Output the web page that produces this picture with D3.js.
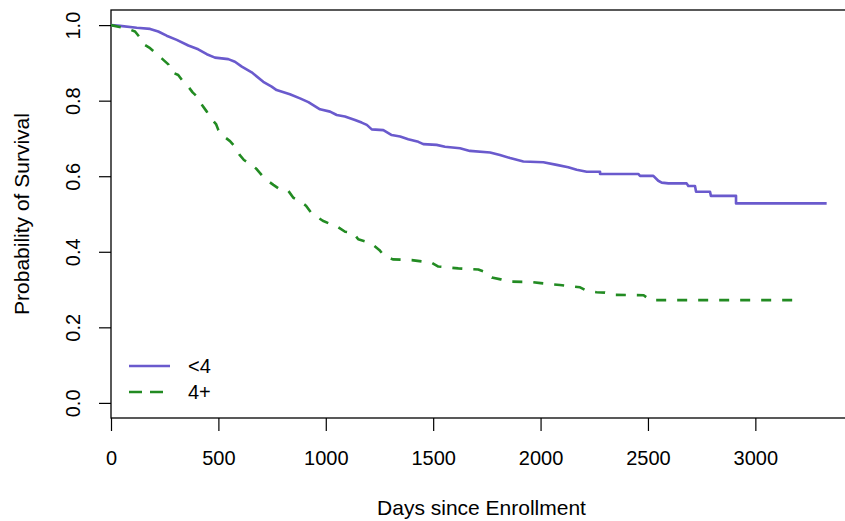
<!DOCTYPE html>
<html>
<head>
<meta charset="utf-8">
<script src="https://cdn.jsdelivr.net/npm/d3@7"></script>
<style>
  html, body { margin: 0; padding: 0; background: #fff; }
  svg { display: block; }
  text { font-family: "Liberation Sans", Arial, Helvetica, sans-serif; fill: #000; }
</style>
</head>
<body>
<svg id="chart" width="845" height="521"></svg>
<script>
// ---- data: Kaplan-Meier curves (time in days, survival probability) ----
const groupLabels = ["<4", "4+"];
const groupColors = ["#6A5ACD", "#228B22"];

const lowTimes = [0, 42, 120, 182, 220, 259, 306, 360, 406, 446, 484, 546, 577, 609, 655, 709, 748, 771, 833, 880, 919, 973, 1020, 1051, 1089, 1136, 1167, 1191, 1214, 1268, 1307, 1346, 1384, 1431, 1454, 1516, 1555, 1625, 1671, 1765, 1811, 1858, 1920, 2013, 2075, 2129, 2168, 2215, 2277, 2277, 2455, 2463, 2525, 2548, 2564, 2595, 2680, 2688, 2719, 2724, 2789, 2793, 2910, 2910, 3332];
const lowSurv  = [1.000, 0.998, 0.993, 0.990, 0.983, 0.972, 0.961, 0.946, 0.936, 0.923, 0.914, 0.910, 0.903, 0.890, 0.875, 0.850, 0.837, 0.828, 0.817, 0.806, 0.796, 0.777, 0.771, 0.762, 0.758, 0.749, 0.742, 0.736, 0.724, 0.722, 0.709, 0.705, 0.698, 0.691, 0.685, 0.683, 0.678, 0.674, 0.667, 0.663, 0.656, 0.648, 0.639, 0.637, 0.630, 0.624, 0.617, 0.612, 0.612, 0.606, 0.606, 0.601, 0.601, 0.588, 0.583, 0.581, 0.581, 0.574, 0.574, 0.559, 0.559, 0.548, 0.548, 0.528, 0.528];

const highTimes = [0, 80, 112, 135, 154, 182, 210, 236, 267, 278, 313, 334, 360, 380, 406, 422, 446, 466, 489, 500, 526, 554, 577, 597, 619, 650, 678, 702, 725, 756, 784, 826, 849, 880, 908, 930, 958, 986, 1023, 1058, 1090, 1128, 1151, 1187, 1221, 1249, 1271, 1312, 1400, 1493, 1524, 1617, 1710, 1749, 1773, 1814, 1855, 1954, 2001, 2090, 2184, 2215, 2260, 2300, 2346, 2480, 2510, 3176];
const highSurv  = [1.000, 0.990, 0.983, 0.967, 0.949, 0.939, 0.925, 0.912, 0.896, 0.877, 0.868, 0.852, 0.837, 0.822, 0.808, 0.790, 0.771, 0.753, 0.738, 0.722, 0.705, 0.693, 0.678, 0.658, 0.643, 0.632, 0.619, 0.603, 0.590, 0.577, 0.566, 0.561, 0.543, 0.534, 0.522, 0.505, 0.493, 0.482, 0.473, 0.465, 0.453, 0.450, 0.433, 0.427, 0.418, 0.405, 0.390, 0.380, 0.378, 0.371, 0.361, 0.356, 0.353, 0.345, 0.332, 0.327, 0.321, 0.320, 0.317, 0.312, 0.306, 0.297, 0.293, 0.292, 0.286, 0.285, 0.272, 0.272];

const xTicks = [0, 500, 1000, 1500, 2000, 2500, 3000];
const yTicks = [0.0, 0.2, 0.4, 0.6, 0.8, 1.0];
const xTitle = "Days since Enrollment";
const yTitle = "Probability of Survival";

(function () {
const svg = d3.select("#chart");
const pL = 111, pR = 852, pT = 10, pB = 418;
const x = d3.scaleLinear().domain([0, 3450]).range([pL, pR]);
const y = d3.scaleLinear().domain([-0.04, 1.04]).range([pB, pT]);
const FS = 20, FT = 21;
const FF = '"Liberation Sans", Arial, Helvetica, sans-serif';

// box (right edge falls outside the window)
svg.append("rect")
  .attr("x", pL).attr("y", pT)
  .attr("width", pR - pL).attr("height", pB - pT)
  .attr("fill", "none").attr("stroke", "#000").attr("stroke-width", 1.3);

// x axis
const xAxis = svg.append("g").attr("transform", `translate(0,${pB})`)
  .call(d3.axisBottom(x).tickValues(xTicks).tickSize(13).tickPadding(0).tickFormat(d3.format("d")));
xAxis.select(".domain").remove();
xAxis.selectAll(".tick line").attr("stroke", "#000").attr("stroke-width", 1.2);
xAxis.selectAll(".tick text")
  .attr("y", 47).attr("dy", null)
  .style("font-size", FS + "px").style("font-family", FF)
  .attr("fill", "#000");

// y axis
const yAxis = svg.append("g").attr("transform", `translate(${pL},0)`)
  .call(d3.axisLeft(y).tickValues(yTicks).tickSize(12).tickFormat(d3.format(".1f")));
yAxis.select(".domain").remove();
yAxis.selectAll(".tick line").attr("stroke", "#000").attr("stroke-width", 1.2);
yAxis.selectAll(".tick text")
  .attr("x", null).attr("dy", null)
  .attr("transform", "translate(-31,0) rotate(-90)")
  .attr("text-anchor", "middle")
  .attr("y", 0)
  .style("font-size", FS + "px").style("font-family", FF)
  .attr("fill", "#000");

// titles
svg.append("text")
  .attr("x", (pL + pR) / 2).attr("y", 515)
  .attr("text-anchor", "middle")
  .style("font-size", FT + "px")
  .text(xTitle);
svg.append("text")
  .attr("transform", `translate(29,${(pT + pB) / 2}) rotate(-90)`)
  .attr("text-anchor", "middle")
  .style("font-size", FT + "px")
  .text(yTitle);

// curves
const series = [
  { times: lowTimes, surv: lowSurv, dash: null },
  { times: highTimes, surv: highSurv, dash: "10,11" }
];
const line = d3.line()
  .x(d => x(d[0])).y(d => y(d[1]))
  .curve(d3.curveLinear);

series.forEach((s, i) => {
  const pts = s.times.map((t, j) => [t, s.surv[j]]);
  const p = svg.append("path")
    .datum(pts)
    .attr("d", line)
    .attr("fill", "none")
    .attr("stroke", groupColors[i])
    .attr("stroke-width", 2.6)
    .attr("stroke-linejoin", "round");
  if (s.dash) p.attr("stroke-dasharray", s.dash);
});

// legend
const legY = [366, 392];
groupLabels.forEach((lab, i) => {
  const l = svg.append("line")
    .attr("x1", 129).attr("x2", 170)
    .attr("y1", legY[i]).attr("y2", legY[i])
    .attr("stroke", groupColors[i])
    .attr("stroke-width", 2.6);
  if (series[i].dash) l.attr("stroke-dasharray", "13,8");
  svg.append("text")
    .attr("x", 188).attr("y", legY[i] + 7)
    .style("font-size", FS + "px")
    .text(lab);
});
})();
</script>
</body>
</html>
